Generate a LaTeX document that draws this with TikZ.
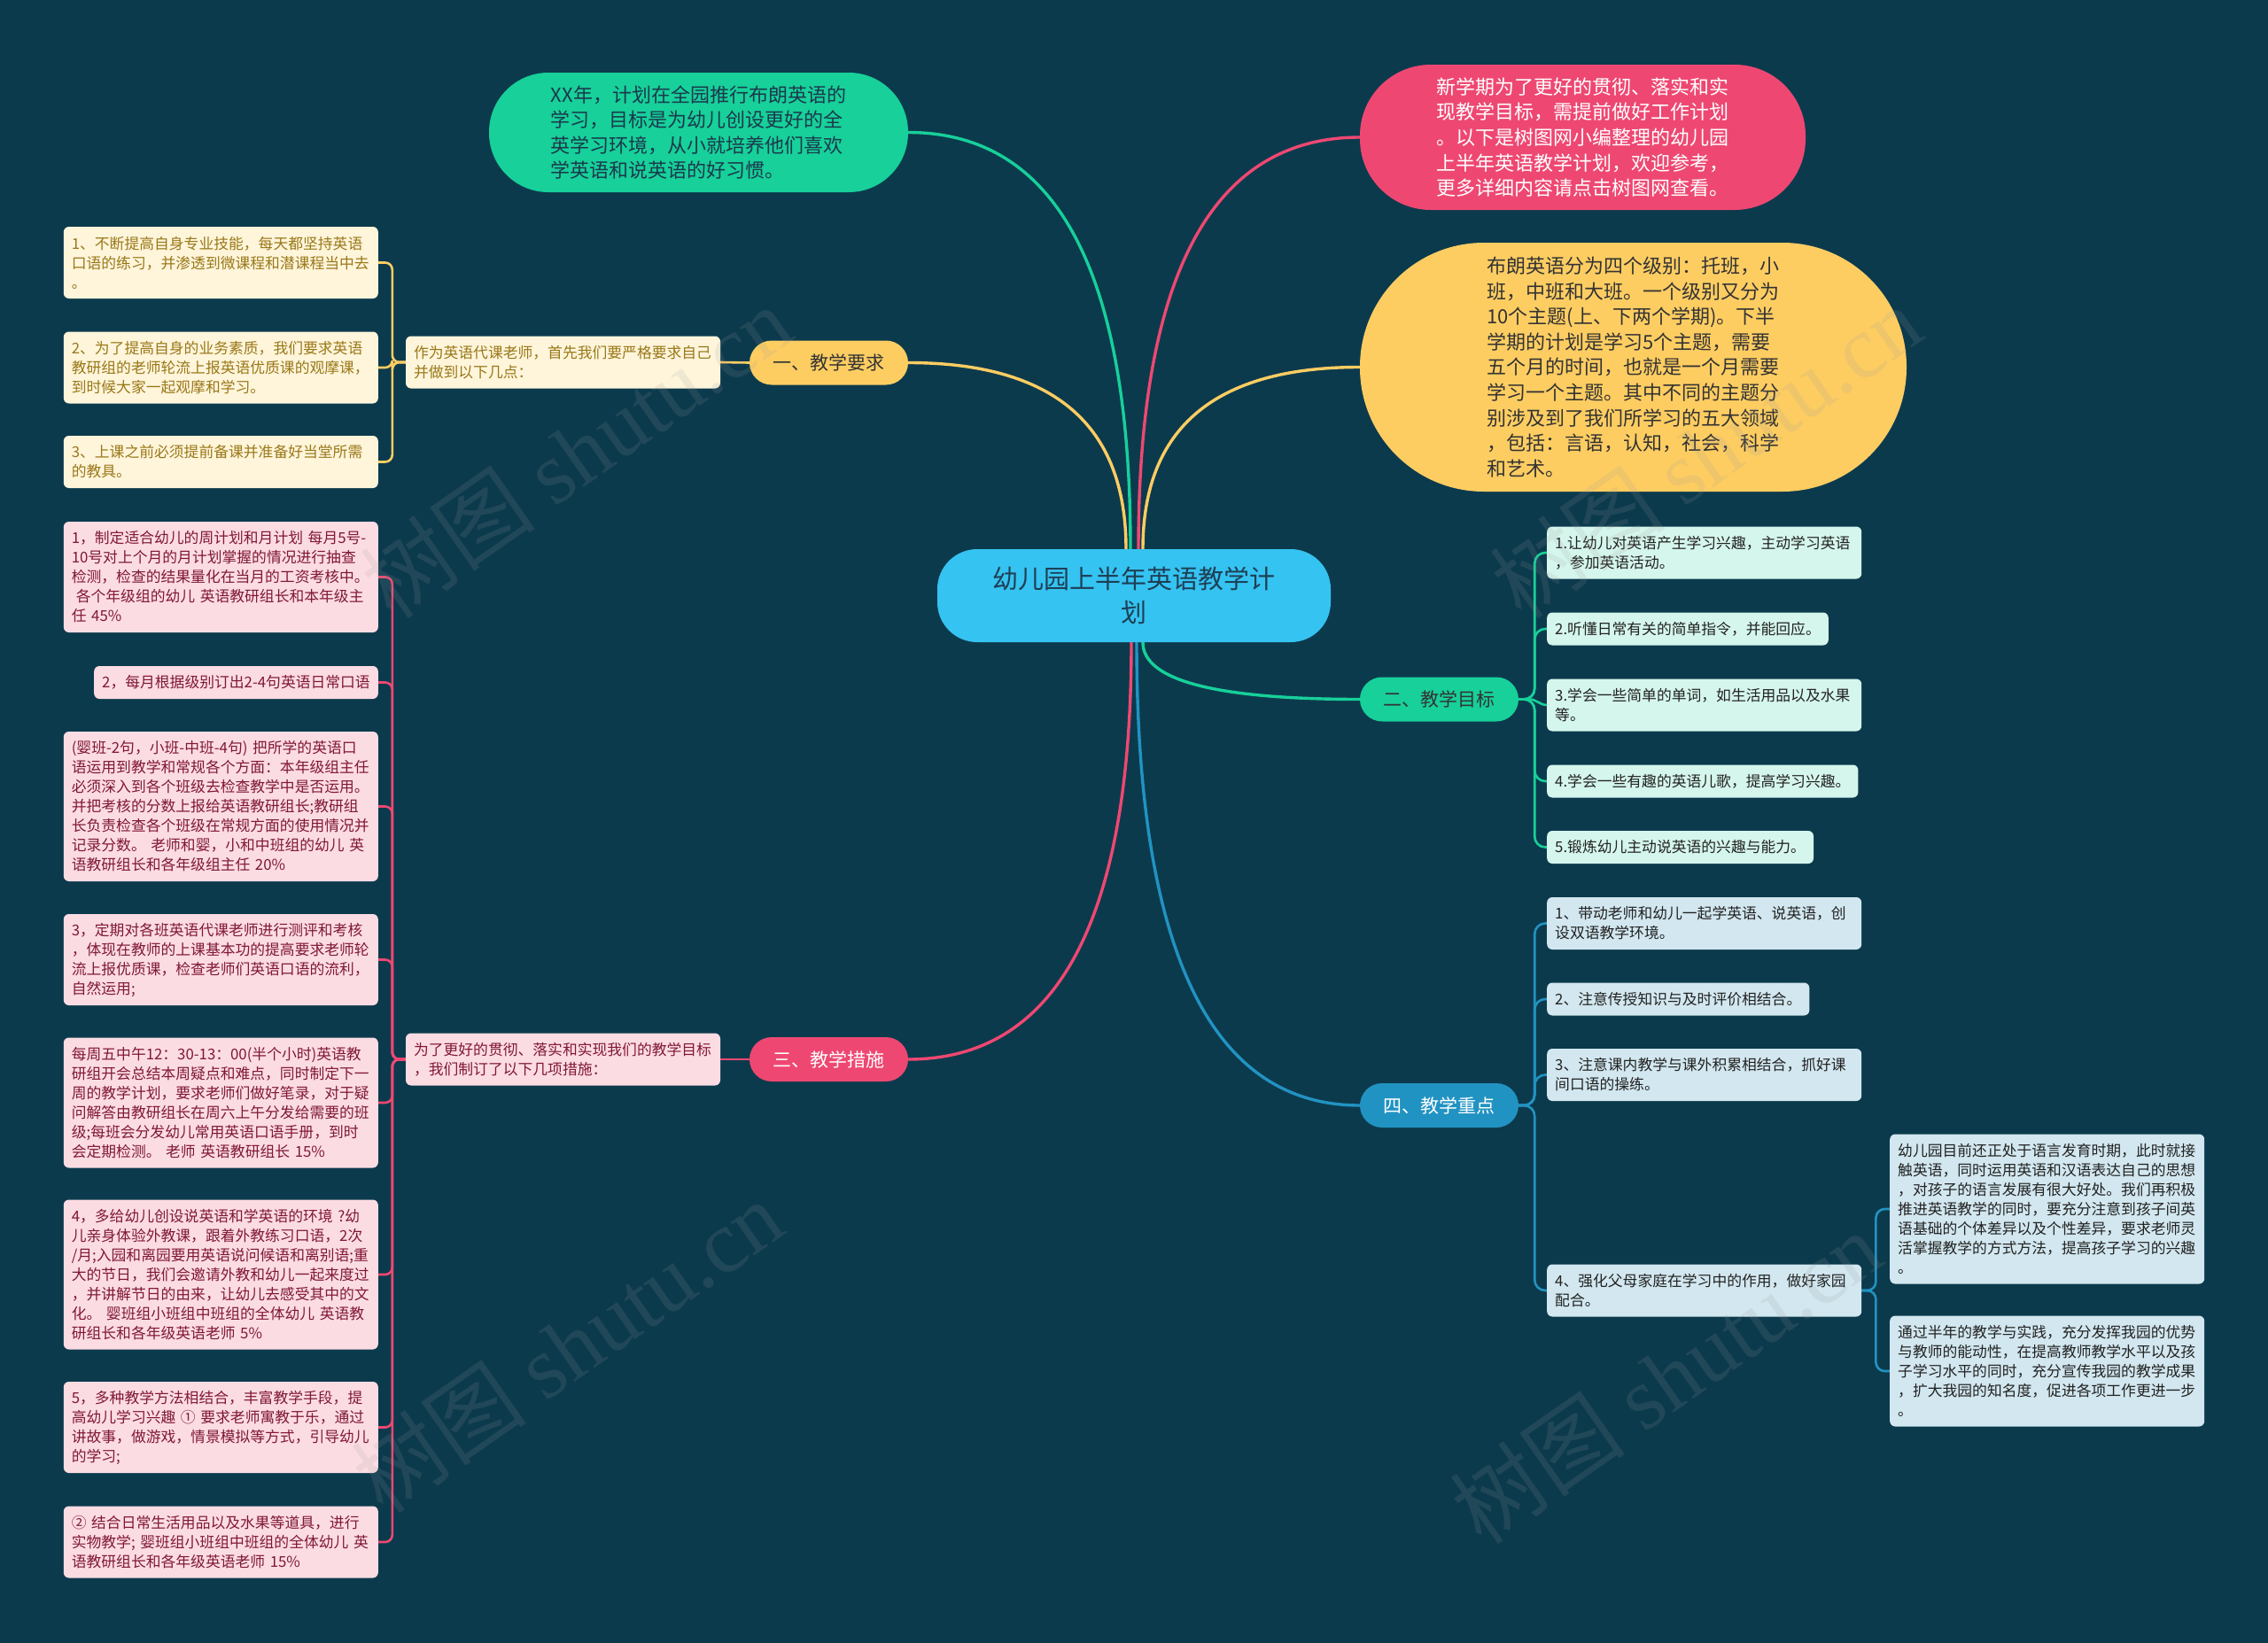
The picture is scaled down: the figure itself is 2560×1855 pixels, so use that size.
\documentclass[tikz,border=0pt]{standalone}
\usepackage{fontspec}
\setmainfont{Noto Sans CJK SC}
\newfontfamily\wmlatin{Liberation Serif}
\usetikzlibrary{calc}
\pgfdeclarelayer{bglayer}
\pgfdeclarelayer{background}
\pgfdeclarelayer{foreground}
\pgfsetlayers{bglayer,background,main,foreground}
\definecolor{bg}{HTML}{0C3A4D}
\definecolor{cyanC}{HTML}{35C3F1}
\definecolor{greenC}{HTML}{17D09A}
\definecolor{pinkC}{HTML}{EE4872}
\definecolor{yellowC}{HTML}{FDCD62}
\definecolor{blueC}{HTML}{2193C2}
\definecolor{creamF}{HTML}{FEF5DB}
\definecolor{creamT}{HTML}{9A7818}
\definecolor{pinkF}{HTML}{FCDCE3}
\definecolor{pinkT}{HTML}{801836}
\definecolor{mintF}{HTML}{D5F6EC}
\definecolor{blueF}{HTML}{D2E7EF}
\definecolor{darkT}{HTML}{222222}
\definecolor{centT}{HTML}{1E3F55}
\begin{document}
\begin{tikzpicture}[x=1pt,y=-1pt,
  leaf/.style={rounded corners=6, inner xsep=9, inner ysep=0, align=left,
    font=\fontsize{16.8}{22}\selectfont},
  nl/.style={minimum height={15+22*#1}},
  wrap/.style={text width=337},
  yleaf/.style={leaf, fill=creamF, text=creamT},
  pleaf/.style={leaf, fill=pinkF, text=pinkT},
  gleaf/.style={leaf, fill=mintF, text=darkT},
  bleaf/.style={leaf, fill=blueF, text=darkT},
  big/.style={align=left, inner sep=0, font=\fontsize{22}{28.6}\selectfont},
  lab/.style={minimum width=179, minimum height=50, rounded corners=25, inner sep=0,
    font=\fontsize{21}{25}\selectfont},
  main/.style={line width=3.4, line cap=round},
  thin/.style={line width=2.6, line cap=round},
  mm/.style={to path={.. controls ($(\tikztostart)!0.667!(\tikztostart |- \tikztotarget)$) and ($(\tikztotarget)!0.667!(\tikztostart |- \tikztotarget)$) .. (\tikztotarget)}},
  wm/.style={opacity=0.15, text=gray!80, rotate=35, inner sep=0,
    font=\fontsize{100}{100}\selectfont}
]
\useasboundingbox (0,0) rectangle (2560,1855);
\begin{pgfonlayer}{bglayer}
\fill[bg] (0,0) rectangle (2560,1855);
\end{pgfonlayer}

% ---------- nodes ----------
\node[fill=cyanC, text=centT, minimum width=444, minimum height=105, rounded corners=45,
  align=center, inner sep=0, font=\fontsize{29}{38}\selectfont]
  (c) at (1280,672.5) {幼儿园上半年英语教学计\\划};

\node[big, fill=greenC, text=centT!90!black, minimum width=473, minimum height=135, rounded corners=67]
  (intro) at (788.5,149.5) {XX年，计划在全园推行布朗英语的\\学习，目标是为幼儿创设更好的全\\英学习环境，从小就培养他们喜欢\\学英语和说英语的好习惯。};

\node[big, fill=pinkC, text=white, minimum width=503, minimum height=164, rounded corners=80]
  (note) at (1786.5,155) {新学期为了更好的贯彻、落实和实\\现教学目标，需提前做好工作计划\\。以下是树图网小编整理的幼儿园\\上半年英语教学计划，欢迎参考，\\更多详细内容请点击树图网查看。};

\node[big, fill=yellowC, text=black!80, minimum width=617, minimum height=281, rounded corners=140]
  (brown) at (1843.5,414.5) {布朗英语分为四个级别：托班，小\\班，中班和大班。一个级别又分为\\10个主题(上、下两个学期)。下半\\学期的计划是学习5个主题，需要\\五个月的时间，也就是一个月需要\\学习一个主题。其中不同的主题分\\别涉及到了我们所学习的五大领域\\，包括：言语，认知，社会，科学\\和艺术。};

\node[lab, fill=yellowC, text=black!80] (l1) at (935.5,409.5) {一、教学要求};
\node[lab, fill=greenC, text=black!80] (l2) at (1624.5,789.5) {二、教学目标};
\node[lab, fill=pinkC, text=white] (l3) at (935.5,1196) {三、教学措施};
\node[lab, fill=blueC, text=white] (l4) at (1624.5,1248) {四、教学重点};

% branch 1
\node[yleaf, wrap, nl=2] (s1) at (635.5,409) {作为英语代课老师，首先我们要严格要求自己\\并做到以下几点：};
\node[yleaf, wrap, nl=3, anchor=east] (y1) at (427,296.5) {1、不断提高自身专业技能，每天都坚持英语\\口语的练习，并渗透到微课程和潜课程当中去\\。};
\node[yleaf, wrap, nl=3, anchor=east] (y2) at (427,415) {2、为了提高自身的业务素质，我们要求英语\\教研组的老师轮流上报英语优质课的观摩课，\\到时候大家一起观摩和学习。};
\node[yleaf, wrap, nl=2, anchor=east] (y3) at (427,521.5) {3、上课之前必须提前备课并准备好当堂所需\\的教具。};

% branch 3
\node[pleaf, wrap, nl=2] (s3) at (635.5,1196) {为了更好的贯彻、落实和实现我们的教学目标\\，我们制订了以下几项措施：};
\node[pleaf, wrap, nl=5, anchor=east] (p1) at (427,651.5) {1，制定适合幼儿的周计划和月计划 每月5号-\\10号对上个月的月计划掌握的情况进行抽查\\检测，检查的结果量化在当月的工资考核中。\\\hspace*{5pt}各个年级组的幼儿 英语教研组长和本年级主\\任 45\%};
\node[pleaf, nl=1, anchor=east] (p2) at (427,770.5) {2，每月根据级别订出2-4句英语日常口语};
\node[pleaf, wrap, nl=7, anchor=east] (p3) at (427,910.5) {(婴班-2句，小班-中班-4句) 把所学的英语口\\语运用到教学和常规各个方面：本年级组主任\\必须深入到各个班级去检查教学中是否运用。\\并把考核的分数上报给英语教研组长;教研组\\长负责检查各个班级在常规方面的使用情况并\\记录分数。 老师和婴，小和中班组的幼儿 英\\语教研组长和各年级组主任 20\%};
\node[pleaf, wrap, nl=4, anchor=east] (p4) at (427,1083.5) {3，定期对各班英语代课老师进行测评和考核\\，体现在教师的上课基本功的提高要求老师轮\\流上报优质课，检查老师们英语口语的流利，\\自然运用;};
\node[pleaf, wrap, nl=6, anchor=east] (p5) at (427,1245) {每周五中午12：30-13：00(半个小时)英语教\\研组开会总结本周疑点和难点，同时制定下一\\周的教学计划，要求老师们做好笔录，对于疑\\问解答由教研组长在周六上午分发给需要的班\\级;每班会分发幼儿常用英语口语手册，到时\\会定期检测。 老师 英语教研组长 15\%};
\node[pleaf, wrap, nl=7, anchor=east] (p6) at (427,1439) {4，多给幼儿创设说英语和学英语的环境 ?幼\\儿亲身体验外教课，跟着外教练习口语，2次\\/月;入园和离园要用英语说问候语和离别语;重\\大的节日，我们会邀请外教和幼儿一起来度过\\，并讲解节日的由来，让幼儿去感受其中的文\\化。 婴班组小班组中班组的全体幼儿 英语教\\研组长和各年级英语老师 5\%};
\node[pleaf, wrap, nl=4, anchor=east] (p7) at (427,1611.5) {5，多种教学方法相结合，丰富教学手段，提\\高幼儿学习兴趣 ① 要求老师寓教于乐，通过\\讲故事，做游戏，情景模拟等方式，引导幼儿\\的学习;};
\node[pleaf, wrap, nl=3, anchor=east] (p8) at (427,1741) {② 结合日常生活用品以及水果等道具，进行\\实物教学; 婴班组小班组中班组的全体幼儿 英\\语教研组长和各年级英语老师 15\%};

% branch 2
\node[gleaf, wrap, nl=2, anchor=west] (g1) at (1746,624) {1.让幼儿对英语产生学习兴趣，主动学习英语\\，参加英语活动。};
\node[gleaf, nl=1, anchor=west] (g2) at (1746,710) {2.听懂日常有关的简单指令，并能回应。};
\node[gleaf, wrap, nl=2, anchor=west] (g3) at (1746,796) {3.学会一些简单的单词，如生活用品以及水果\\等。};
\node[gleaf, nl=1, anchor=west] (g4) at (1746,882) {4.学会一些有趣的英语儿歌，提高学习兴趣。};
\node[gleaf, nl=1, anchor=west] (g5) at (1746,956.5) {5.锻炼幼儿主动说英语的兴趣与能力。};

% branch 4
\node[bleaf, wrap, nl=2, anchor=west] (b1) at (1746,1042.5) {1、带动老师和幼儿一起学英语、说英语，创\\设双语教学环境。};
\node[bleaf, nl=1, anchor=west] (b2) at (1746,1128) {2、注意传授知识与及时评价相结合。};
\node[bleaf, wrap, nl=2, anchor=west] (b3) at (1746,1213.5) {3、注意课内教学与课外积累相结合，抓好课\\间口语的操练。};
\node[bleaf, wrap, nl=2, anchor=west] (b4) at (1746,1457) {4、强化父母家庭在学习中的作用，做好家园\\配合。};
\node[bleaf, wrap, nl=7, anchor=west] (q1) at (2133,1365) {幼儿园目前还正处于语言发育时期，此时就接\\触英语，同时运用英语和汉语表达自己的思想\\，对孩子的语言发展有很大好处。我们再积极\\推进英语教学的同时，要充分注意到孩子间英\\语基础的个体差异以及个性差异，要求老师灵\\活掌握教学的方式方法，提高孩子学习的兴趣\\。};
\node[bleaf, wrap, nl=5, anchor=west] (q2) at (2133,1548) {通过半年的教学与实践，充分发挥我园的优势\\与教师的能动性，在提高教师教学水平以及孩\\子学习水平的同时，充分宣传我园的教学成果\\，扩大我园的知名度，促进各项工作更进一步\\。};

% ---------- connectors (behind nodes) ----------
\coordinate (sA) at ($(c.north)+(-4,0)$);
\coordinate (sB) at ($(c.north)+(5,0)$);
\coordinate (sC) at ($(c.north)+(-9,0)$);
\coordinate (sD) at ($(c.north)+(10,0)$);
\coordinate (sE) at ($(c.south)+(10,0)$);
\coordinate (sF) at ($(c.south)+(-3,0)$);
\coordinate (sG) at ($(c.south)+(3,0)$);
\begin{pgfonlayer}{background}
\draw[main, greenC]  (sA) to[mm] (intro.east);
\draw[main, pinkC]   (sB) to[mm] (note.west);
\draw[main, yellowC] (sC) to[mm] (l1.east);
\draw[main, yellowC] (sD) to[mm] (brown.west);
\draw[main, greenC]  (sE) to[mm] (l2.west);
\draw[main, pinkC]   (sF) to[mm] (l3.east);
\draw[main, blueC]   (sG) to[mm] (l4.west);

\draw[thin, yellowC] (l1.west) -- (s1.east);
\foreach \n in {y1,y2,y3}
  \draw[thin, yellowC, rounded corners=8] (s1.west) -- ++(-15,0) |- (\n.east);
\draw[thin, pinkC] (l3.west) -- (s3.east);
\foreach \n in {p1,p2,p3,p4,p5,p6,p7,p8}
  \draw[thin, pinkC, rounded corners=8] (s3.west) -- ++(-15,0) |- (\n.east);

\foreach \n in {g1,g2,g4,g5}
  \draw[thin, greenC, rounded corners=12] (l2.east) -- ++(18,0) |- (\n.west);
\draw[thin, greenC] (l2.east) -- ++(12,0) to[out=0,in=180] (g3.west);

\foreach \n in {b1,b2,b3,b4}
  \draw[thin, blueC, rounded corners=12] (l4.east) -- ++(18,0) |- (\n.west);
\foreach \n in {q1,q2}
  \draw[thin, blueC, rounded corners=10] (b4.east) -- ++(16,0) |- (\n.west);
\end{pgfonlayer}

% ---------- watermarks ----------
\begin{pgfonlayer}{foreground}
\node[wm] (w1) at (650,510) {树图 {\wmlatin shutu.cn}};
\node[wm] (w2) at (1925,510) {树图 {\wmlatin shutu.cn}};
\node[wm] (w3) at (640,1520) {树图 {\wmlatin shutu.cn}};
\node[wm] (w4) at (1880,1555) {树图 {\wmlatin shutu.cn}};
\end{pgfonlayer}
\end{tikzpicture}
\end{document}
